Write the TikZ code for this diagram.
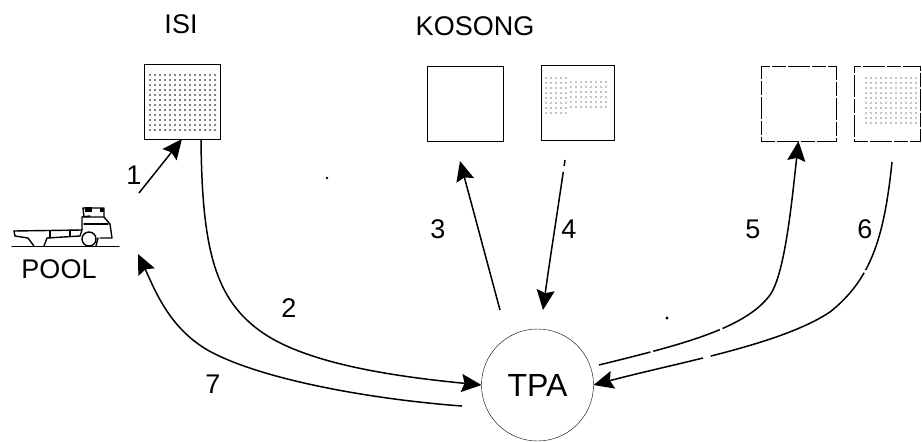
\documentclass[tikz,border=0pt]{standalone}
\usepackage{fontspec}
\setmainfont{Liberation Sans}
\usetikzlibrary{arrows.meta}
\newcommand{\dotgrid}[5]{%
  \foreach \xa in {#1,\the\numexpr#1+5\relax,...,#2}
    \foreach \ya in {#3,\the\numexpr#3+5\relax,...,#4}
      \fill[black] (\xa,\ya) circle[radius=#5];}
\tikzset{
  x=1pt,y=-1pt,
  line width=1.6pt,
  bin/.style={draw,rectangle,minimum width=75pt,minimum height=75pt,inner sep=0pt,outer sep=0pt},
  dashbin/.style={bin,dash pattern=on 14pt off 2pt on 22pt off 2pt},
  lab/.style={inner sep=0pt,font=\fontsize{27}{27}\selectfont},
  num/.style={inner sep=0pt,font=\fontsize{27}{27}\selectfont},
  flow/.style={-{Stealth[length=20pt,width=18pt,inset=3pt]},line width=1.5pt},
  plain/.style={line width=1.4pt,line cap=round,line join=round},
}
\begin{document}
\begin{tikzpicture}
\useasboundingbox (0,0) rectangle (922,442);
% shading dots
\dotgrid{150}{215}{75}{134}{0.85pt}
\dotgrid{546}{566}{78}{115}{0.6pt}
\dotgrid{571}{610}{82}{110}{0.6pt}
\dotgrid{866}{918}{78}{125}{0.7pt}
% bins
\node[bin,minimum width=76pt] (isi) at (182,101.5) {};
\node[bin,minimum width=76pt] (ka) at (465,103.5) {};
\node[bin,minimum width=73pt] (kb) at (577.5,103) {};
\node[dashbin] (ra) at (798.5,103.5) {};
\node[dashbin,minimum width=66pt] (rb) at (887,103.5) {};
\node[draw,circle,minimum size=112pt,inner sep=0pt,outer sep=0pt,font=\fontsize{32}{32}\selectfont] (tpa) at (537.5,385) {TPA};
% titles
\node[lab] (tisi) at (181,24) {ISI};
\node[lab] (tkos) at (475,26) {KOSONG};
\node[lab] (tpool) at (59,269) {POOL};
% numbers
\node[num] (n1) at (134,175) {1};
\node[num] (n2) at (289,308) {2};
\node[num] (n3) at (438,229) {3};
\node[num] (n4) at (569,229) {4};
\node[num] (n5) at (753,229) {5};
\node[num] (n6) at (865,229) {6};
\node[num] (n7) at (213,384) {7};
% free ends
\coordinate (a1) at (139,193);
\coordinate (a2) at (201,139);
\coordinate (a3s) at (500,310);
\coordinate (a3e) at (460,161);
\coordinate (a4s) at (565,160);
\coordinate (a4e) at (543,310);
\coordinate (a5s) at (599,365);
\coordinate (a6s) at (892,162);
\coordinate (a7s) at (462,406);
\coordinate (a7e) at (138,254);
% connectors
\draw[flow] (a1) -- (isi.south);
\draw[flow] (a2) .. controls (202,250) and (215,300) .. (263,333) .. controls (310,365) and (400,377) .. (tpa.west);
\draw[flow] (a3s) -- (a3e);
\draw[flow,dash pattern=on 6pt off 6pt on 500pt off 0pt] (a4s) .. controls (557,215) and (549,265) .. (a4e);
\draw[flow,dash pattern=on 53pt off 3pt on 70pt off 3pt on 500pt off 0pt] (a5s) .. controls (680,345) and (745,329) .. (770,295) .. controls (785,274) and (792,200) .. (ra.south);
\draw[flow,dash pattern=on 112pt off 3pt on 180pt off 8pt on 500pt off 0pt] (a6s) .. controls (884,240) and (870,280) .. (830,312) .. controls (780,345) and (680,362) .. (tpa.east);
\draw[flow] (a7s) .. controls (380,400) and (270,382) .. (213,353) .. controls (170,331) and (155,290) .. (a7e);
% truck
\draw[plain] (12,246.5) -- (119,246.5);
\draw[plain] (14,231) -- (82,230) -- (82,217) -- (90,216);
\draw[plain] (14,231) -- (15,236) -- (28,238) -- (34,246);
\draw[plain] (44,246) -- (47,238) -- (80,236) -- (82,230);
\draw[plain] (50,231) -- (50,238) (70,231) -- (70,236);
\draw[plain] (83,208) -- (104,208) -- (104,217) -- (110,224) -- (112,238) -- (100,238);
\draw[plain] (83,208) -- (84,217) -- (104,217);
\draw[plain] (84,224) -- (108,224);
\draw[plain] (89,239) circle[radius=7pt];
\draw[plain] (98,238) -- (96,246);
\fill[black] (85,207) rectangle (92,212);
\fill[black] (100,208) rectangle (104,212);
% specks
\fill[black] (327,178) circle[radius=1.3pt];
\fill[black] (667,318) circle[radius=1.6pt];
\end{tikzpicture}
\end{document}
